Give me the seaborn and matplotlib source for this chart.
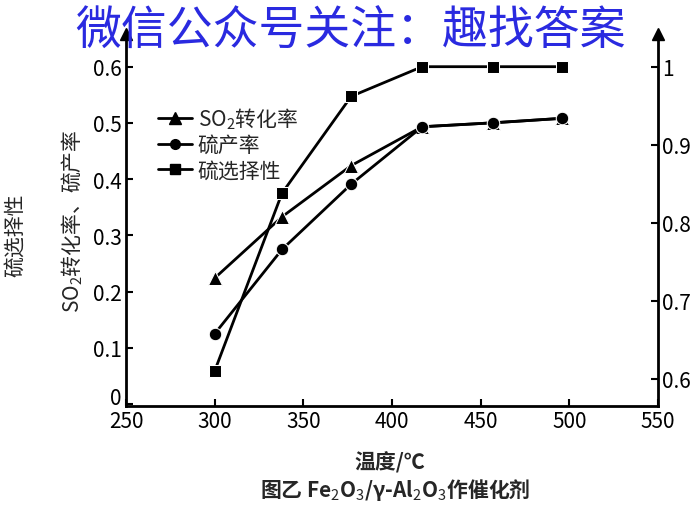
import matplotlib
matplotlib.use("Agg")
import matplotlib.pyplot as plt
import matplotlib.transforms as mtransforms
import seaborn as sns
import pandas as pd
from matplotlib.lines import Line2D

temps = [300, 338, 377, 417, 457, 496]
so2_conv = [0.224, 0.333, 0.424, 0.493, 0.500, 0.508]
s_yield = [0.125, 0.275, 0.391, 0.493, 0.500, 0.508]
s_select = [0.610, 0.838, 0.962, 1.0, 1.0, 1.0]

series_names = ["SO$_2$转化率", "硫产率", "硫选择性"]
x_ticks = [250, 300, 350, 400, 450, 500, 550]
left_ticks = [0, 0.1, 0.2, 0.3, 0.4, 0.5, 0.6]
left_labels = ["0", "0.1", "0.2", "0.3", "0.4", "0.5", "0.6"]
right_ticks = [0.6, 0.7, 0.8, 0.9, 1.0]
right_labels = ["0.6", "0.7", "0.8", "0.9", "1"]

sns.set_theme(style="white")
plt.rcParams['font.family'] = ['Noto Sans CJK SC', 'DejaVu Sans']
plt.rcParams['mathtext.fontset'] = 'custom'
plt.rcParams['mathtext.rm'] = 'Noto Sans CJK SC'

fig = plt.figure(figsize=(7.0, 5.06), dpi=100)
ax = fig.add_axes([0.18, 0.196, 0.76, 0.735])
ax2 = ax.twinx()

df_left = pd.DataFrame({"T": temps * 2,
                        "v": so2_conv + s_yield,
                        "s": [series_names[0]] * len(temps) + [series_names[1]] * len(temps)})
df_right = pd.DataFrame({"T": temps, "v": s_select})

sns.lineplot(data=df_left[df_left.s == series_names[0]], x="T", y="v", ax=ax, color="black",
             marker="^", markersize=10, linewidth=2, legend=False)
sns.lineplot(data=df_left[df_left.s == series_names[1]], x="T", y="v", ax=ax, color="black",
             marker="o", markersize=9, linewidth=2, legend=False)
sns.lineplot(data=df_right, x="T", y="v", ax=ax2, color="black",
             marker="s", markersize=8.5, linewidth=2, legend=False)

ax.set_xlim(250, 550)
ax.set_ylim(-0.003, 0.658)
ax2.set_ylim(0.5654, 1.042)

ax.set_xticks(x_ticks)
ax.set_xticklabels([str(t) for t in x_ticks], fontsize=15)
ax.set_yticks(left_ticks)
ax.set_yticklabels(left_labels, fontsize=15)
ax2.set_yticks(right_ticks)
ax2.set_yticklabels(right_labels, fontsize=15)

for a in (ax, ax2):
    a.spines['top'].set_visible(False)
    for sp in ('left', 'right', 'bottom'):
        a.spines[sp].set_color('black')
        a.spines[sp].set_linewidth(2)
    a.set_xlabel("")
    a.set_ylabel("")
ax.spines['right'].set_visible(False)
ax2.spines['left'].set_visible(False)
ax2.spines['bottom'].set_visible(False)

ax.tick_params(axis='x', direction='in', length=5, width=1.5, colors='black', pad=3)
ax.tick_params(axis='y', direction='in', length=5, width=1.5, colors='black', pad=3, left=True)
ax2.tick_params(axis='y', direction='in', length=5, width=1.5, colors='black', pad=3, right=True)
ax.tick_params(axis='x', bottom=True)

# lift the "0" label a little so it sits above the 250 label
zero_lbl = ax.get_yticklabels()[0]
zero_lbl.set_transform(zero_lbl.get_transform() +
                       mtransforms.ScaledTranslation(0, 6 / 72, fig.dpi_scale_trans))

# arrow heads on vertical axes
ax.plot([0], [1], marker='^', color='black', markersize=8, transform=ax.transAxes, clip_on=False)
ax.plot([1], [1], marker='^', color='black', markersize=8, transform=ax.transAxes, clip_on=False)

handles = [Line2D([0], [0], color='black', marker='^', lw=2, markersize=8),
           Line2D([0], [0], color='black', marker='o', lw=2, markersize=7),
           Line2D([0], [0], color='black', marker='s', lw=2, markersize=7)]
ax.legend(handles, series_names, loc='upper left', bbox_to_anchor=(0.045, 0.83),
          frameon=False, fontsize=15, handlelength=1.6, handletextpad=0.3,
          labelspacing=0.15, borderaxespad=0)

ax.set_ylabel("SO$_2$转化率、硫产率", fontsize=15, labelpad=6)
fig.text(0.022, 0.535, "硫选择性", rotation=90, fontsize=15, ha='center', va='center')

fig.text(0.557, 0.085, "温度/℃", fontsize=15, ha='center', va='center', fontweight='bold')
fig.text(0.565, 0.032, "图乙 Fe$_2$O$_3$/γ-Al$_2$O$_3$作催化剂", fontsize=15, ha='center', va='center',
         fontweight='bold')

fig.text(0.5, 0.937, "微信公众号关注：趣找答案", fontsize=33, color='#2A2AE0',
         ha='center', va='center')

fig.savefig("out.png", dpi=100)
